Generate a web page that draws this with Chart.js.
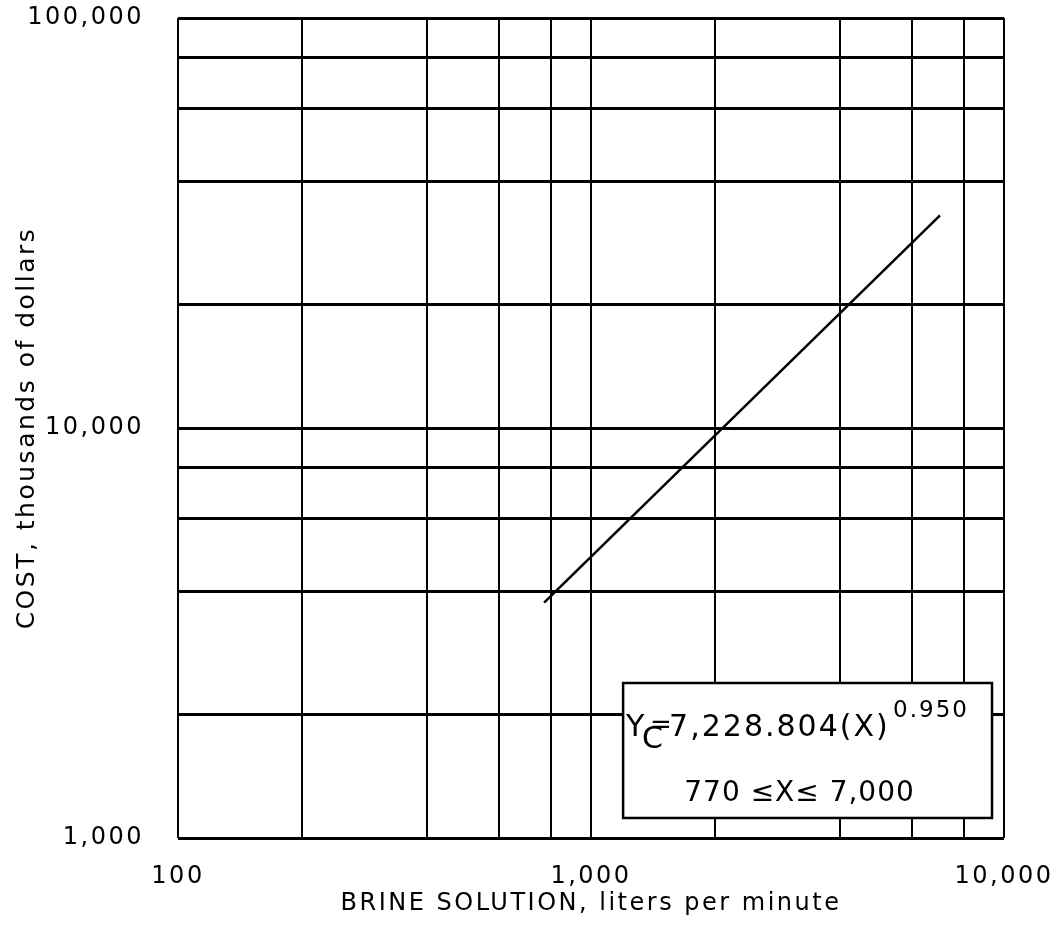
<!DOCTYPE html>
<html>
<head>
<meta charset="utf-8">
<script src="https://cdn.jsdelivr.net/npm/chart.js@4/dist/chart.umd.min.js"></script>
<style>
  html, body { margin: 0; padding: 0; background: #ffffff; }
  #wrap { width: 1064px; height: 951px; }
</style>
</head>
<body>
<div id="wrap"><canvas id="c" width="1064" height="951"></canvas></div>
<script>
// ---- data ----
const brineFlow = [770, 7000];            // liters per minute (line end points)
const costThousands = [3750, 33000];      // thousands of dollars

const xGridValues = [100, 200, 400, 600, 800, 1000, 2000, 4000, 6000, 8000, 10000];
const yGridValues = [1000, 2000, 4000, 6000, 8000, 10000, 20000, 40000, 60000, 80000, 100000];
const xLabelValues = [100, 1000, 10000];
const xLabelTexts = ['100', '1,000', '10,000'];
const yLabelValues = [1000, 10000, 100000];
const yLabelTexts = ['1,000', '10,000', '100,000'];

const xTitle = 'BRINE SOLUTION, liters per minute';
const yTitle = 'COST, thousands of dollars';
const eqY = 'Y';
const eqSub = 'C';
const eqEquals = '=';
const eqBody = '7,228.804(X)';
const eqExp = '0.950';
const rangeText = '770 \u2264X\u2264 7,000';

// ---- chart ----
const FONT = '"DejaVu Sans", "Liberation Sans", sans-serif';

const spacingPlugin = {
  id: 'spacing',
  beforeDraw(chart) { chart.ctx.letterSpacing = '2.5px'; },
  afterDraw(chart) { chart.ctx.letterSpacing = '0px'; }
};

const equationBox = {
  id: 'equationBox',
  afterDraw(chart) {
    const ctx = chart.ctx;
    const xs = chart.scales.x, ys = chart.scales.y;
    const left = xs.getPixelForValue(1196);
    const right = xs.getPixelForValue(9354);
    const top = ys.getPixelForValue(2388);
    const bottom = ys.getPixelForValue(1119);
    ctx.save();
    ctx.fillStyle = '#ffffff';
    ctx.fillRect(left, top, right - left, bottom - top);
    ctx.strokeStyle = '#000000';
    ctx.lineWidth = 2.5;
    ctx.strokeRect(left, top, right - left, bottom - top);

    ctx.fillStyle = '#000000';
    ctx.textBaseline = 'alphabetic';
    ctx.textAlign = 'left';
    ctx.letterSpacing = '1.5px';
    ctx.font = '30px ' + FONT;
    const base1 = top + 53;
    ctx.fillText(eqY, left + 3, base1);
    ctx.fillText(eqSub, left + 19, base1 + 12);
    ctx.font = '26px ' + FONT;
    ctx.fillText(eqEquals, left + 27, base1 - 3);
    ctx.font = '30px ' + FONT;
    ctx.letterSpacing = '2px';
    ctx.fillText(eqBody, left + 46, base1);
    ctx.font = '23px ' + FONT;
    ctx.fillText(eqExp, left + 270, top + 34);

    ctx.font = '28px ' + FONT;
    ctx.letterSpacing = '1px';
    ctx.textAlign = 'center';
    ctx.fillText(rangeText, (left + right) / 2 - 8, top + 118);
    ctx.restore();
  }
};

new Chart(document.getElementById('c'), {
  type: 'line',
  data: {
    datasets: [{
      data: brineFlow.map((x, i) => ({ x: x, y: costThousands[i] })),
      borderColor: '#000000',
      borderWidth: 2.5,
      pointRadius: 0,
      fill: false,
      tension: 0
    }]
  },
  options: {
    responsive: false,
    animation: false,
    devicePixelRatio: 1,
    layout: { padding: { top: 18, right: 60, left: 0, bottom: 0 } },
    plugins: { legend: { display: false }, tooltip: { enabled: false } },
    scales: {
      x: {
        type: 'logarithmic',
        position: 'bottom',
        min: 100,
        max: 10000,
        afterBuildTicks: (s) => { s.ticks = xGridValues.map(v => ({ value: v })); },
        afterFit: (s) => { s.height = 113; s.paddingLeft = 0; s.paddingRight = 0; },
        grid: { color: '#000000', lineWidth: 2, drawTicks: false },
        border: { display: false },
        ticks: {
          autoSkip: false,
          maxRotation: 0,
          padding: 24,
          color: '#000000',
          font: { family: FONT, size: 24 },
          callback: (v) => { const i = xLabelValues.indexOf(v); return i >= 0 ? xLabelTexts[i] : ''; }
        },
        title: {
          display: true,
          text: xTitle,
          color: '#000000',
          font: { family: FONT, size: 24 },
          padding: { top: 0, bottom: 33 }
        }
      },
      y: {
        type: 'logarithmic',
        position: 'left',
        min: 1000,
        max: 100000,
        afterBuildTicks: (s) => { s.ticks = yGridValues.map(v => ({ value: v })); },
        afterFit: (s) => { s.width = 178; s.paddingTop = 0; s.paddingBottom = 0; },
        grid: { color: '#000000', lineWidth: 3, drawTicks: false },
        border: { display: false },
        ticks: {
          autoSkip: false,
          padding: 34,
          color: '#000000',
          font: { family: FONT, size: 24 },
          callback: (v) => { const i = yLabelValues.indexOf(v); return i >= 0 ? yLabelTexts[i] : ''; }
        },
        title: {
          display: true,
          text: yTitle,
          color: '#000000',
          font: { family: FONT, size: 25 },
          padding: { top: 12, bottom: 0 }
        }
      }
    }
  },
  plugins: [spacingPlugin, equationBox]
});
</script>
</body>
</html>
